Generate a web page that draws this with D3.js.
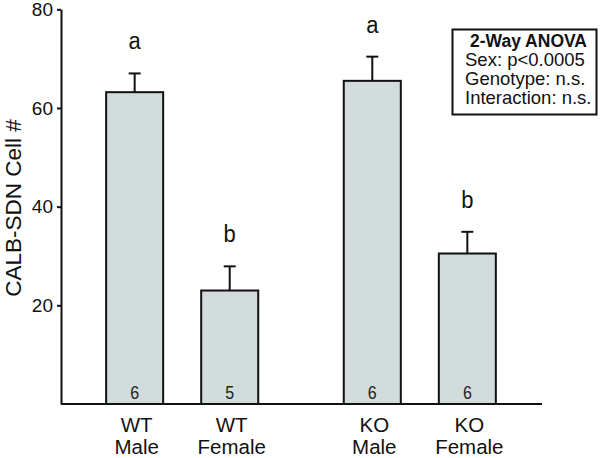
<!DOCTYPE html>
<html>
<head>
<meta charset="utf-8">
<script src="https://cdn.jsdelivr.net/npm/d3@7"></script>
<style>
  html, body { margin: 0; padding: 0; background: #fff; }
  svg { display: block; font-family: "Liberation Sans", Arial, sans-serif; }
</style>
</head>
<body>
<svg id="chart" width="600" height="458"></svg>
<script>
// ---- data ----
const genotypes = ["WT", "KO"];
const sexes = ["Male", "Female"];
const means = [63.2, 23.0, 65.5, 30.5];      // WT Male, WT Female, KO Male, KO Female
const sems = [3.8, 4.9, 4.9, 4.4];
const counts = ["6", "5", "6", "6"];
const sigLetters = ["a", "b", "a", "b"];
const yTicks = [20, 40, 60, 80];
const yTitle = "CALB-SDN Cell #";
const anovaTitle = "2-Way ANOVA";
const anovaLines = ["Sex: p<0.0005", "Genotype: n.s.", "Interaction: n.s."];

const rows = [];
genotypes.forEach((g, gi) => sexes.forEach((s, si) => {
  const i = gi * 2 + si;
  rows.push({ g, s, mean: means[i], sem: sems[i], n: counts[i], letter: sigLetters[i] });
}));

// vertical stretch helper for single text marks (reference glyphs are a little taller)
function stretch(sel, sy) {
  sel.each(function () {
    const t = d3.select(this);
    const x = +t.attr("x") || 0, yy = +t.attr("y") || 0;
    t.attr("x", 0).attr("y", 0).attr("transform", `translate(${x},${yy}) scale(1,${sy})`);
  });
}

// ---- layout ----
const svg = d3.select("#chart");
const x0 = 61, x1 = 541, yTop = 9.3, yBase = 404;

const y = d3.scaleLinear().domain([0, 80]).range([yBase, yTop]);
const outer = d3.scaleBand().domain(genotypes).range([x0, x1]).paddingInner(0.2).paddingOuter(0.11);
const inner = d3.scaleBand().domain(sexes).range([0, outer.bandwidth()]).paddingInner(0.4).paddingOuter(0.2);
const bx = d => outer(d.g) + inner(d.s);
const bw = inner.bandwidth();
const cx = d => bx(d) + bw / 2;

// bars
svg.append("g").selectAll("rect").data(rows).join("rect")
  .attr("x", d => bx(d))
  .attr("y", d => y(d.mean))
  .attr("width", bw)
  .attr("height", d => y(0) - y(d.mean))
  .attr("fill", "#d2dcdc")
  .attr("stroke", "#111")
  .attr("stroke-width", 2);

// error bars
const eb = svg.append("g").attr("stroke", "#111").attr("stroke-width", 2);
eb.selectAll("line.v").data(rows).join("line").attr("class", "v")
  .attr("x1", cx).attr("x2", cx)
  .attr("y1", d => y(d.mean)).attr("y2", d => y(d.mean + d.sem));
eb.selectAll("line.c").data(rows).join("line").attr("class", "c")
  .attr("x1", d => cx(d) - 6).attr("x2", d => cx(d) + 6)
  .attr("y1", d => y(d.mean + d.sem)).attr("y2", d => y(d.mean + d.sem));

// significance letters
svg.append("g").selectAll("text").data(rows).join("text")
  .attr("x", cx)
  .attr("y", d => y(d.mean + d.sem) - 24)
  .attr("text-anchor", "middle")
  .attr("font-size", 22)
  .attr("fill", "#111")
  .text(d => d.letter)
  .call(stretch, 1.12);

// counts
svg.append("g").selectAll("text").data(rows).join("text")
  .attr("x", cx)
  .attr("y", y(0) - 5)
  .attr("text-anchor", "middle")
  .attr("font-size", 16)
  .attr("fill", "#222")
  .text(d => d.n)
  .call(stretch, 1.15);

// baseline
svg.append("line")
  .attr("x1", x0).attr("x2", x1 + 1)
  .attr("y1", y(0)).attr("y2", y(0))
  .attr("stroke", "#111").attr("stroke-width", 2);

// y axis
const ya = svg.append("g").attr("transform", `translate(${x0},0)`)
  .call(d3.axisLeft(y).tickValues(yTicks).tickSize(4).tickSizeOuter(0).tickPadding(4));
ya.select(".domain").attr("stroke", "#111").attr("stroke-width", 2);
ya.selectAll(".tick line").attr("stroke", "#111").attr("stroke-width", 2);
ya.selectAll(".tick text").attr("font-size", 19).attr("fill", "#111")
  .attr("font-family", "Liberation Sans, Arial, sans-serif");

// y title
svg.append("text")
  .attr("transform", "translate(21,208) rotate(-90)")
  .attr("text-anchor", "middle")
  .attr("font-size", 22.5)
  .attr("fill", "#111")
  .text(yTitle);

// x labels (two lines)
svg.append("g").selectAll("text").data(rows).join("text")
  .attr("x", d => cx(d) + 2).attr("y", 432)
  .attr("text-anchor", "middle").attr("font-size", 20.5).attr("fill", "#111")
  .text(d => d.g);
svg.append("g").selectAll("text").data(rows).join("text")
  .attr("x", d => cx(d) + 2).attr("y", 454)
  .attr("text-anchor", "middle").attr("font-size", 20.5).attr("fill", "#111")
  .text(d => d.s);

// ANOVA box
const box = svg.append("g");
box.append("rect").attr("x", 452.5).attr("y", 29.5).attr("width", 144).attr("height", 85)
  .attr("fill", "#fff").attr("stroke", "#111").attr("stroke-width", 2);
box.append("text").attr("x", 470).attr("y", 47).attr("font-size", 17.5).attr("font-weight", "bold")
  .attr("fill", "#111").text(anovaTitle);
box.selectAll("text.l").data(anovaLines).join("text").attr("class", "l")
  .attr("x", 465).attr("y", (d, i) => 66 + i * 19)
  .attr("font-size", 18.5).attr("fill", "#111").text(d => d);
</script>
</body>
</html>
